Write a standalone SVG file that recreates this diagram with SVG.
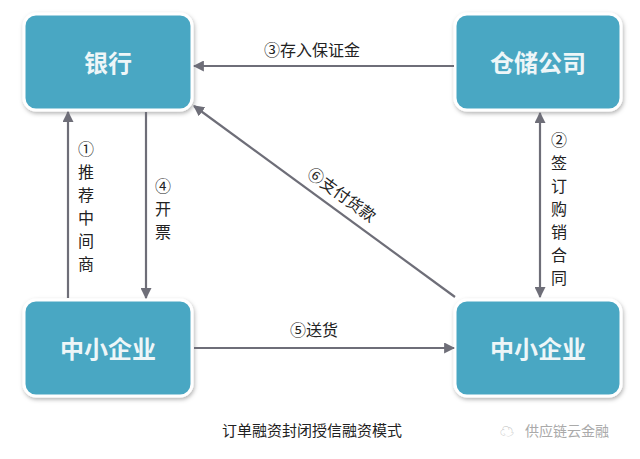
<svg xmlns="http://www.w3.org/2000/svg" width="640" height="459" viewBox="0 0 640 459">
<defs>
<style>
.n{fill:#4aa7c3;stroke:#fff;stroke-width:3}
.nt{font-family:"Noto Sans CJK SC",sans-serif;font-weight:bold;font-size:24px;fill:#eef6f8;text-anchor:middle}
.l{stroke:#6e6e78;stroke-width:2.2;fill:none}
.t{font-family:"Noto Sans CJK SC",sans-serif;font-size:16px;fill:#222}
</style>
<marker id="a" viewBox="0 0 10 10" refX="9" refY="5" markerWidth="5" markerHeight="5" orient="auto-start-reverse"><path d="M0,0L10,5L0,10z" fill="#6e6e78"/></marker>
<filter id="s" x="-10%" y="-10%" width="130%" height="130%"><feDropShadow dx="1" dy="2" stdDeviation="2" flood-color="#000" flood-opacity="0.3"/></filter>
</defs>
<rect width="640" height="459" fill="#fff"/>
<g id="bank"><rect class="n" filter="url(#s)" x="24" y="14" width="168" height="96" rx="12"/><text class="nt" x="108" y="72">银行</text></g>
<g id="warehouse"><rect class="n" filter="url(#s)" x="455" y="14" width="166" height="96" rx="12"/><text class="nt" x="538" y="72">仓储公司</text></g>
<g id="smeL"><rect class="n" filter="url(#s)" x="24" y="300" width="168" height="96" rx="12"/><text class="nt" x="108" y="358">中小企业</text></g>
<g id="smeR"><rect class="n" filter="url(#s)" x="455" y="300" width="166" height="96" rx="12"/><text class="nt" x="538" y="358">中小企业</text></g>
<g id="connectors">
<line class="l" x1="454" y1="66" x2="194" y2="66" marker-end="url(#a)"/>
<line class="l" x1="68" y1="298" x2="68" y2="112" marker-end="url(#a)"/>
<line class="l" x1="146" y1="112" x2="146" y2="298" marker-end="url(#a)"/>
<line class="l" x1="540" y1="113" x2="540" y2="297" marker-start="url(#a)" marker-end="url(#a)"/>
<line class="l" x1="194" y1="348" x2="454" y2="348" marker-end="url(#a)"/>
<line class="l" x1="455" y1="297" x2="194" y2="106" marker-end="url(#a)"/>
</g>
<g class="t">
<text x="264" y="56">③存入保证金</text>
<text x="78" y="155">①</text><text x="78" y="178">推</text><text x="78" y="201">荐</text><text x="78" y="224">中</text><text x="78" y="247">间</text><text x="78" y="270">商</text>
<text x="155" y="192">④</text><text x="155" y="215">开</text><text x="155" y="238">票</text>
<text x="551" y="146">②</text><text x="551" y="169">签</text><text x="551" y="192">订</text><text x="551" y="215">购</text><text x="551" y="238">销</text><text x="551" y="261">合</text><text x="551" y="284">同</text>
<text x="290" y="336">⑤送货</text>
<text transform="translate(306,176) rotate(36)">⑥支付货款</text>
<text x="222" y="436" font-size="15">订单融资封闭授信融资模式</text>
<text x="525" y="436" font-size="14" fill="#aaa">供应链云金融</text>
<text x="500" y="436" font-size="14" fill="#bbb">☁</text>
</g>
</svg>
